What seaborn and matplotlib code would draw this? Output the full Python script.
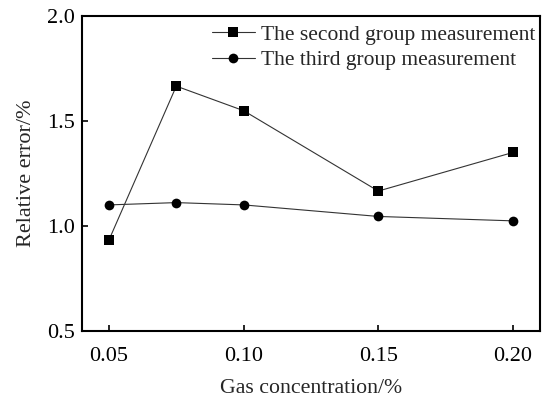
import matplotlib
matplotlib.use("Agg")
import matplotlib.pyplot as plt
import seaborn as sns
import pandas as pd

concentration = [0.05, 0.075, 0.10, 0.15, 0.20]
second_group = [0.933, 1.666, 1.549, 1.166, 1.350]
third_group = [1.100, 1.111, 1.100, 1.045, 1.024]
series_names = ["The second group measurement", "The third group measurement"]
x_ticks = [0.05, 0.10, 0.15, 0.20]
y_ticks = [0.5, 1.0, 1.5, 2.0]

sns.set_theme(style="ticks")
plt.rcParams["font.family"] = ["Liberation Serif", "DejaVu Serif"]

df = pd.DataFrame({
    "x": concentration * 2,
    "y": second_group + third_group,
    "series": [series_names[0]] * 5 + [series_names[1]] * 5,
})

fig = plt.figure(figsize=(5.47, 4.01), dpi=100)
ax = fig.add_axes([0.150, 0.175, 0.837, 0.785])
sns.lineplot(data=df, x="x", y="y", hue="series", style="series",
             palette=["black", "black"], markers=["s", "o"], dashes=False,
             markersize=7, linewidth=0.8, markeredgewidth=0, ax=ax)
for ln in ax.lines:
    ln.set_color("#333333")
    ln.set_markerfacecolor("black")
    ln.set_markeredgecolor("black")

ax.set_xlim(0.04, 0.21)
ax.set_ylim(0.5, 2.0)
ax.set_xticks(x_ticks)
ax.set_xticklabels([f"{v:.2f}" for v in x_ticks])
ax.set_yticks(y_ticks)
ax.set_yticklabels([f"{v:.1f}" for v in y_ticks])
ax.tick_params(direction="in", length=4, width=1.2, labelsize=16, colors="black")
ax.tick_params(axis="y", pad=5)
ax.tick_params(axis="x", pad=12)
for s in ax.spines.values():
    s.set_linewidth(1.5)
    s.set_color("black")
ax.set_xlabel("Gas concentration/%", fontsize=15.7, labelpad=9)
ax.set_ylabel("Relative error/%", fontsize=16, labelpad=8)

leg = ax.legend(loc="upper right", frameon=False, fontsize=15.5, handlelength=2.0,
                handletextpad=0.3, borderaxespad=0.0, labelspacing=0.25,
                bbox_to_anchor=(1.01, 1.0))
for h in leg.legend_handles:
    h.set_color("#333333")
    h.set_markerfacecolor("black")
    h.set_markeredgecolor("black")

fig.savefig("out.png", dpi=100)
